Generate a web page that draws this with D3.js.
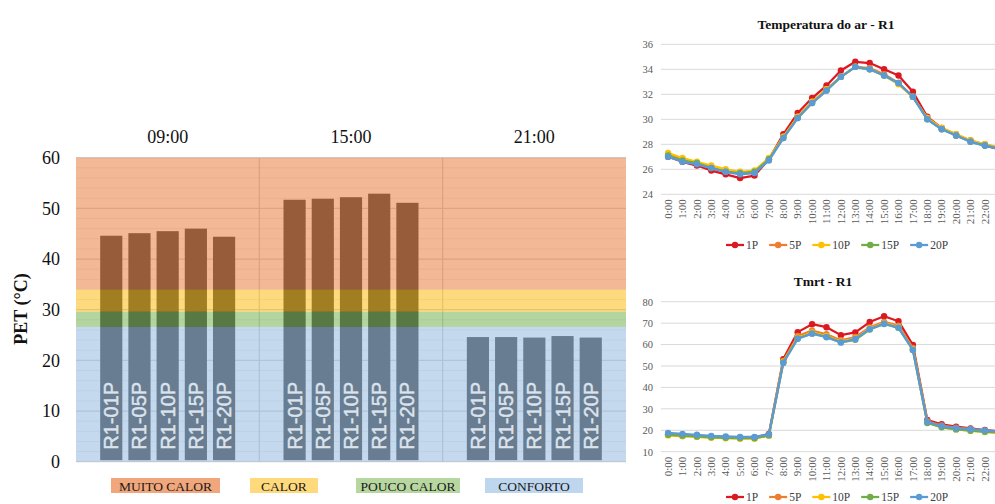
<!DOCTYPE html>
<html>
<head>
<meta charset="utf-8">
<script src="https://cdn.jsdelivr.net/npm/d3@7"></script>
<style>
  html, body { margin: 0; padding: 0; background: #fff; }
  svg { display: block; }
</style>
</head>
<body>
<svg id="chart" width="995" height="504"></svg>
<script>
// ---- PET per point, by time of day ----
const periods = ["09:00", "15:00", "21:00"];
const points = ["R1-01P", "R1-05P", "R1-10P", "R1-15P", "R1-20P"];
const pet0900 = [44.6, 45.1, 45.5, 46.0, 44.4];
const pet1500 = [51.7, 51.9, 52.2, 52.9, 51.1];
const pet2100 = [24.6, 24.6, 24.5, 24.8, 24.5];
const petTicks = [0, 10, 20, 30, 40, 50, 60];

// Thermal sensation bands (PET, °C)
const zoneNames = ["MUITO CALOR", "CALOR", "POUCO CALOR", "CONFORTO"];
const zoneLow = [34, 29.6, 26.6, 0];
const zoneHigh = [60, 34, 29.6, 26.6];

// ---- Hourly series ----
const hours = ["0:00","1:00","2:00","3:00","4:00","5:00","6:00","7:00","8:00","9:00","10:00","11:00",
               "12:00","13:00","14:00","15:00","16:00","17:00","18:00","19:00","20:00","21:00","22:00","23:00"];
const seriesNames = ["1P", "5P", "10P", "15P", "20P"];

const air1P  = [27.0,26.6,26.3,25.9,25.6,25.3,25.5,26.8,28.8,30.5,31.7,32.7,33.9,34.6,34.5,34.0,33.5,32.2,30.2,29.3,28.7,28.3,27.9,27.6];
const air5P  = [27.2,26.8,26.5,26.2,25.9,25.7,25.8,26.8,28.6,30.2,31.4,32.4,33.4,34.2,34.1,33.6,32.9,31.8,30.1,29.3,28.8,28.3,28.0,27.7];
const air10P = [27.3,26.9,26.6,26.3,26.0,25.8,25.9,26.9,28.6,30.2,31.4,32.4,33.4,34.2,34.0,33.5,32.8,31.8,30.1,29.3,28.8,28.3,28.0,27.7];
const air15P = [27.1,26.7,26.5,26.1,25.8,25.7,25.8,26.8,28.5,30.1,31.3,32.3,33.4,34.2,34.0,33.5,32.9,31.8,30.0,29.2,28.7,28.2,27.9,27.7];
const air20P = [27.0,26.6,26.4,26.1,25.8,25.6,25.7,26.7,28.5,30.1,31.3,32.3,33.4,34.2,34.0,33.5,32.9,31.8,30.0,29.2,28.7,28.2,27.9,27.6];
const airTicks = [24, 26, 28, 30, 32, 34, 36];

const tmrt1P  = [18.2,17.7,17.4,17.0,16.8,16.6,16.6,18.3,53.2,65.8,69.5,68.1,64.4,65.7,70.5,73.2,70.9,59.8,24.8,22.8,21.7,20.9,20.1,19.6];
const tmrt5P  = [18.0,17.6,17.3,16.9,16.7,16.5,16.5,17.9,52.3,64.0,66.5,64.8,62.0,63.5,68.0,70.6,68.8,58.4,24.2,22.2,21.2,20.5,19.8,19.3];
const tmrt10P = [17.6,17.2,16.9,16.5,16.3,16.1,16.1,17.5,52.0,63.2,65.6,64.0,61.4,62.8,67.5,70.0,68.2,57.8,23.6,21.5,20.4,19.8,19.2,18.8];
const tmrt15P = [17.9,17.5,17.1,16.7,16.5,16.3,16.3,17.6,51.7,62.8,65.2,63.6,61.0,62.2,67.0,69.6,67.8,57.5,23.4,21.4,20.4,19.8,19.3,18.9];
const tmrt20P = [18.8,18.3,17.9,17.4,17.1,16.9,16.9,18.1,51.4,62.7,65.1,63.4,61.0,62.6,67.2,69.7,67.9,57.5,23.9,22.0,21.0,20.5,19.9,19.5];
const tmrtTicks = [10, 20, 30, 40, 50, 60, 70, 80];

// ---- Styling ----
const serif = "'Liberation Serif', 'Times New Roman', serif";
const sans = "'Liberation Sans', Arial, sans-serif";
const zoneOverlay = ["#e7732f", "#fdb500", "#6bab41", "#8bb3dd"];
const zoneLegend = ["#f1a67c", "#ffda7c", "#b7d7a0", "#bed6ee"];
const legendBoxes = [[111, 109], [250, 68], [356, 104], [485, 98]];
const seriesColors = ["#dc1820", "#ed7d31", "#ffc000", "#70ad47", "#5b9bd5"];

const svg = d3.select("#chart");

// =================== PET bar chart ===================
const petByPeriod = [pet0900, pet1500, pet2100];
const barData = [];
periods.forEach((p, i) => points.forEach((pt, j) => barData.push({ period: p, point: pt, value: petByPeriod[i][j] })));

const x0 = d3.scaleBand().domain(periods).range([76, 626]).padding(0);
const x1 = d3.scaleBand().domain(points).range([0, x0.bandwidth()]).paddingInner(0.214).paddingOuter(0.857);
const y = d3.scaleLinear().domain([0, 60]).range([461.7, 157.7]);

const bar = svg.append("g");

// minor + major gridlines
bar.append("g").selectAll("line").data(d3.range(0, 61, 2).filter(v => v % 10 !== 0)).join("line")
  .attr("x1", 76).attr("x2", 626).attr("y1", d => y(d)).attr("y2", d => y(d))
  .attr("stroke", "#ededed").attr("stroke-width", 1);
bar.append("g").selectAll("line").data(petTicks).join("line")
  .attr("x1", 76).attr("x2", 626).attr("y1", d => y(d)).attr("y2", d => y(d))
  .attr("stroke", "#d4d4d4").attr("stroke-width", 1.2);
// group separators
bar.append("g").selectAll("line").data(periods.slice(1)).join("line")
  .attr("x1", d => x0(d)).attr("x2", d => x0(d)).attr("y1", y(60)).attr("y2", y(0))
  .attr("stroke", "#cfcfcf").attr("stroke-width", 1.2);

// bars
bar.append("g").selectAll("rect").data(barData).join("rect")
  .attr("x", d => x0(d.period) + x1(d.point))
  .attr("width", x1.bandwidth())
  .attr("y", d => y(d.value))
  .attr("height", d => y(0) - y(d.value) - 1.5)
  .attr("fill", "#474747");

// sensation bands laid over the plot
bar.append("g").selectAll("rect").data(zoneNames).join("rect")
  .attr("x", 76).attr("width", 550)
  .attr("y", (d, i) => y(zoneHigh[i]))
  .attr("height", (d, i) => y(zoneLow[i]) - y(zoneHigh[i]))
  .attr("fill", (d, i) => zoneOverlay[i])
  .attr("fill-opacity", 0.5);

// point names inside the bars
bar.append("g").selectAll("text").data(barData).join("text")
  .attr("transform", d => `translate(${x0(d.period) + x1(d.point) + x1.bandwidth() / 2 + 7},${y(0) - 12}) rotate(-90)`)
  .attr("font-family", sans).attr("font-size", 20)
  .attr("fill", "#dce3ec").attr("stroke", "#dce3ec").attr("stroke-width", 0.45)
  .text(d => d.point);

// y axis
const yAxis = bar.append("g").attr("transform", "translate(76,0)")
  .call(d3.axisLeft(y).tickValues(petTicks).tickSize(0).tickPadding(16));
yAxis.select(".domain").remove();
yAxis.selectAll("text").attr("font-family", serif).attr("font-size", 18).attr("fill", "#111");

bar.append("text")
  .attr("transform", "translate(27,309) rotate(-90)")
  .attr("text-anchor", "middle")
  .attr("font-family", serif).attr("font-size", 18).attr("font-weight", "bold").attr("fill", "#111")
  .text("PET (°C)");

// period headers
const topAxis = bar.append("g").attr("transform", "translate(0,143)")
  .call(d3.axisTop(x0).tickSize(0).tickPadding(0));
topAxis.select(".domain").remove();
topAxis.selectAll("text").attr("font-family", serif).attr("font-size", 18).attr("fill", "#111").attr("dy", 0);

// band legend
const leg = bar.append("g").selectAll("g").data(zoneNames).join("g");
leg.append("rect")
  .attr("x", (d, i) => legendBoxes[i][0]).attr("width", (d, i) => legendBoxes[i][1])
  .attr("y", 478).attr("height", 15)
  .attr("fill", (d, i) => zoneLegend[i]);
leg.append("text")
  .attr("x", (d, i) => legendBoxes[i][0] + legendBoxes[i][1] / 2).attr("y", 491)
  .attr("text-anchor", "middle")
  .attr("font-family", serif).attr("font-size", 13.5).attr("fill", "#1a1a1a")
  .text(d => d);

// =================== Hourly line charts ===================
const x = d3.scaleBand().domain(hours).range([660.9, 1006.5]);
const xc = h => x(h) + x.bandwidth() / 2;

function lineChart(cfg) {
  const g = svg.append("g");
  const yy = d3.scaleLinear().domain(cfg.domain).range(cfg.range);

  g.append("g").selectAll("line").data(cfg.ticks).join("line")
    .attr("x1", 660.9).attr("x2", 1006.5)
    .attr("y1", d => yy(d)).attr("y2", d => yy(d))
    .attr("stroke", "#d9d9d9").attr("stroke-width", 1);

  const ya = g.append("g").attr("transform", "translate(660.9,0)")
    .call(d3.axisLeft(yy).tickValues(cfg.ticks).tickSize(0).tickPadding(8));
  ya.select(".domain").remove();
  ya.selectAll("text").attr("font-family", serif).attr("font-size", 10.5).attr("fill", "#595959");

  const xa = g.append("g").attr("transform", `translate(0,${cfg.range[0]})`)
    .call(d3.axisBottom(x).tickSize(0));
  xa.select(".domain").remove();
  xa.selectAll("text")
    .attr("transform", "rotate(-90)")
    .attr("text-anchor", "end")
    .attr("x", -5).attr("y", 0).attr("dy", "0.33em")
    .attr("font-family", serif).attr("font-size", 11).attr("fill", "#595959");

  const line = d3.line().x((d, i) => xc(hours[i])).y(d => yy(d));
  cfg.series.forEach((vals, k) => {
    g.append("path").datum(vals)
      .attr("d", line).attr("fill", "none")
      .attr("stroke", seriesColors[k]).attr("stroke-width", 2.25).attr("stroke-linejoin", "round");
    g.append("g").selectAll("circle").data(vals).join("circle")
      .attr("cx", (d, i) => xc(hours[i])).attr("cy", d => yy(d)).attr("r", 3.2)
      .attr("fill", seriesColors[k]);
  });

  g.append("text")
    .attr("x", cfg.titleX).attr("y", cfg.titleY)
    .attr("text-anchor", "middle")
    .attr("font-family", serif).attr("font-size", 13.5).attr("font-weight", "bold").attr("fill", "#111")
    .text(cfg.title);

  // legend
  let lx = 726;
  seriesNames.forEach((name, k) => {
    const item = g.append("g");
    item.append("line").attr("x1", lx).attr("x2", lx + 18).attr("y1", cfg.legendY).attr("y2", cfg.legendY)
      .attr("stroke", seriesColors[k]).attr("stroke-width", 2.25);
    item.append("circle").attr("cx", lx + 9).attr("cy", cfg.legendY).attr("r", 3.2).attr("fill", seriesColors[k]);
    const t = item.append("text").attr("x", lx + 20).attr("y", cfg.legendY).attr("dy", "0.35em")
      .attr("font-family", serif).attr("font-size", 11.5).attr("fill", "#404040").text(name);
    lx += 20 + t.node().getComputedTextLength() + 11;
  });
}

lineChart({
  title: "Temperatura do ar - R1", titleX: 826, titleY: 29,
  domain: [24, 36], range: [194.3, 44.3], ticks: airTicks,
  series: [air1P, air5P, air10P, air15P, air20P], legendY: 245
});

lineChart({
  title: "Tmrt - R1", titleX: 823, titleY: 286,
  domain: [10, 80], range: [451.7, 301.7], ticks: tmrtTicks,
  series: [tmrt1P, tmrt5P, tmrt10P, tmrt15P, tmrt20P], legendY: 497
});
</script>
</body>
</html>
